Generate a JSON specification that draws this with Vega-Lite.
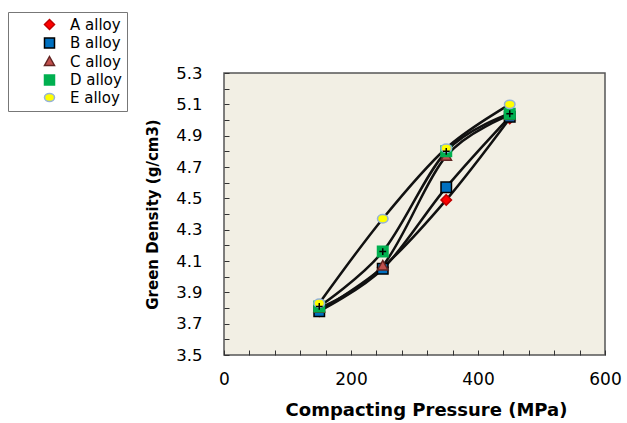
{
  "$schema": "https://vega.github.io/schema/vega-lite/v6.json",
  "width": 381,
  "height": 282,
  "autosize": {"type": "none"},
  "padding": {"left": 224, "top": 73, "right": 22, "bottom": 68},
  "background": "white",
  "config": {
    "font": "DejaVu Sans",
    "view": {"fill": "#F2EFE4", "stroke": "#555555", "strokeWidth": 1.5},
    "axis": {"domain": false, "grid": false, "labelFont": "DejaVu Sans", "titleFont": "DejaVu Sans", "labelColor": "#000", "titleColor": "#000", "tickColor": "#333", "tickSize": -5, "tickWidth": 1},
    "legend": {
      "title": null, "orient": "none", "legendX": -216, "legendY": -61,
      "strokeColor": "#777777", "padding": 5, "fillColor": "white",
      "labelFontSize": 15, "labelFont": "DejaVu Sans", "labelColor": "#000",
      "symbolSize": 100, "symbolOffset": 29, "labelOffset": 13, "rowPadding": 1.5,
      "symbolStrokeWidth": 1.5
    }
  },
  "data": {"values": [
    {"alloy": "A alloy", "p": 150, "d": 3.78},
    {"alloy": "A alloy", "p": 250, "d": 4.06},
    {"alloy": "A alloy", "p": 350, "d": 4.49},
    {"alloy": "A alloy", "p": 450, "d": 5.01},
    {"alloy": "B alloy", "p": 150, "d": 3.78},
    {"alloy": "B alloy", "p": 250, "d": 4.05},
    {"alloy": "B alloy", "p": 350, "d": 4.57},
    {"alloy": "B alloy", "p": 450, "d": 5.02},
    {"alloy": "C alloy", "p": 150, "d": 3.80},
    {"alloy": "C alloy", "p": 250, "d": 4.07},
    {"alloy": "C alloy", "p": 350, "d": 4.77},
    {"alloy": "C alloy", "p": 450, "d": 5.03},
    {"alloy": "D alloy", "p": 150, "d": 3.81},
    {"alloy": "D alloy", "p": 250, "d": 4.16},
    {"alloy": "D alloy", "p": 350, "d": 4.80},
    {"alloy": "D alloy", "p": 450, "d": 5.04},
    {"alloy": "E alloy", "p": 150, "d": 3.83},
    {"alloy": "E alloy", "p": 250, "d": 4.37},
    {"alloy": "E alloy", "p": 350, "d": 4.82},
    {"alloy": "E alloy", "p": 450, "d": 5.10}
  ]},
  "encoding": {
    "x": {"field": "p", "type": "quantitative", "scale": {"domain": [0, 600], "nice": false},
      "axis": {"values": [0,40,80,120,160,200,240,280,320,360,400,440,480,520,560,600],
        "labelExpr": "datum.value % 200 === 0 ? datum.label : ''", "labelFontSize": 17, "labelPadding": 21, "labelFlush": false,
        "title": "Compacting Pressure (MPa)", "titleFontSize": 18, "titleFontWeight": "bold", "titlePadding": 14, "titleX": 202}},
    "y": {"field": "d", "type": "quantitative", "scale": {"domain": [3.5, 5.3], "nice": false, "zero": false},
      "axis": {"values": [3.5,3.6,3.7,3.8,3.9,4.0,4.1,4.2,4.3,4.4,4.5,4.6,4.7,4.8,4.9,5.0,5.1,5.2,5.3],
        "labelExpr": "round(datum.value*10) % 2 === 1 ? format(datum.value, '.1f') : ''", "labelFontSize": 16.5, "labelPadding": 27, "labelFlush": false,
        "title": "Green Density (g/cm3)", "titleFontSize": 15, "titleFontWeight": "bold", "titlePadding": 15}}
  },
  "layer": [
    {
      "mark": {"type": "line", "interpolate": "cardinal", "color": "#111111", "strokeWidth": 2.5},
      "encoding": {"detail": {"field": "alloy"}}
    },
    {
      "mark": {"type": "point", "filled": true, "opacity": 1, "size": 110, "strokeWidth": 1.5},
      "encoding": {
        "fill": {"field": "alloy", "type": "nominal", "scale": {"domain": ["A alloy","B alloy","C alloy","D alloy","E alloy"],
          "range": ["#FF0000", "#0070C0", "#C0504D", "#00B050", "#FFFF00"]},
          "legend": {
            "encode": {"symbols": {
              "shape": {"value": {"signal": "datum.value === 'A alloy' ? 'M-4,0L-0.9,0M0.9,0L4,0M0,-0.9L0.9,0L0,0.9L-0.9,0Z' : datum.value === 'B alloy' ? 'M-4,0L-0.8,0M0.8,0L4,0M-0.8,-0.8L0.8,-0.8L0.8,0.8L-0.8,0.8Z' : datum.value === 'C alloy' ? 'M-4,0L-0.9,0M0.9,0L4,0M0,-0.9L0.9,0.7L-0.9,0.7Z' : datum.value === 'D alloy' ? 'M-4,0L-0.8,0M0.8,0L4,0M-0.8,-0.8L0.8,-0.8L0.8,0.8L-0.8,0.8ZM-0.8,0L0.8,0M0,-0.6L0,0.6' : 'M-4,0L-0.9,0M0.9,0L4,0M-0.9,0A0.9,0.7 0 1,0 0.9,0A0.9,0.7 0 1,0 -0.9,0Z'"}},
              "stroke": {"value": "#111111"},
              "strokeWidth": {"value": 1.5}
            }}
          }},
        "stroke": {"field": "alloy", "type": "nominal", "scale": {"domain": ["A alloy","B alloy","C alloy","D alloy","E alloy"],
          "range": ["#C00000", "#000000", "#632523", "#00B050", "#95B3D7"]}},
        "shape": {"field": "alloy", "type": "nominal", "scale": {"domain": ["A alloy","B alloy","C alloy","D alloy","E alloy"],
          "range": ["M0,-1L1,0L0,1L-1,0Z", "M-1,-1L1,-1L1,1L-1,1Z", "M0,-1L1,0.8L-1,0.8Z", "M-1,-1L1,-1L1,1L-1,1Z", "M-1,0A1,0.8 0 1,0 1,0A1,0.8 0 1,0 -1,0Z"]}}
      }
    },
    {
      "transform": [{"filter": "datum.alloy === 'D alloy'"}],
      "mark": {"type": "point", "filled": false, "shape": "M-0.65,0L0.65,0M0,-0.65L0,0.65", "size": 110, "stroke": "#000", "strokeWidth": 1.5, "opacity": 1},
      "encoding": {}
    }
  ]
}
